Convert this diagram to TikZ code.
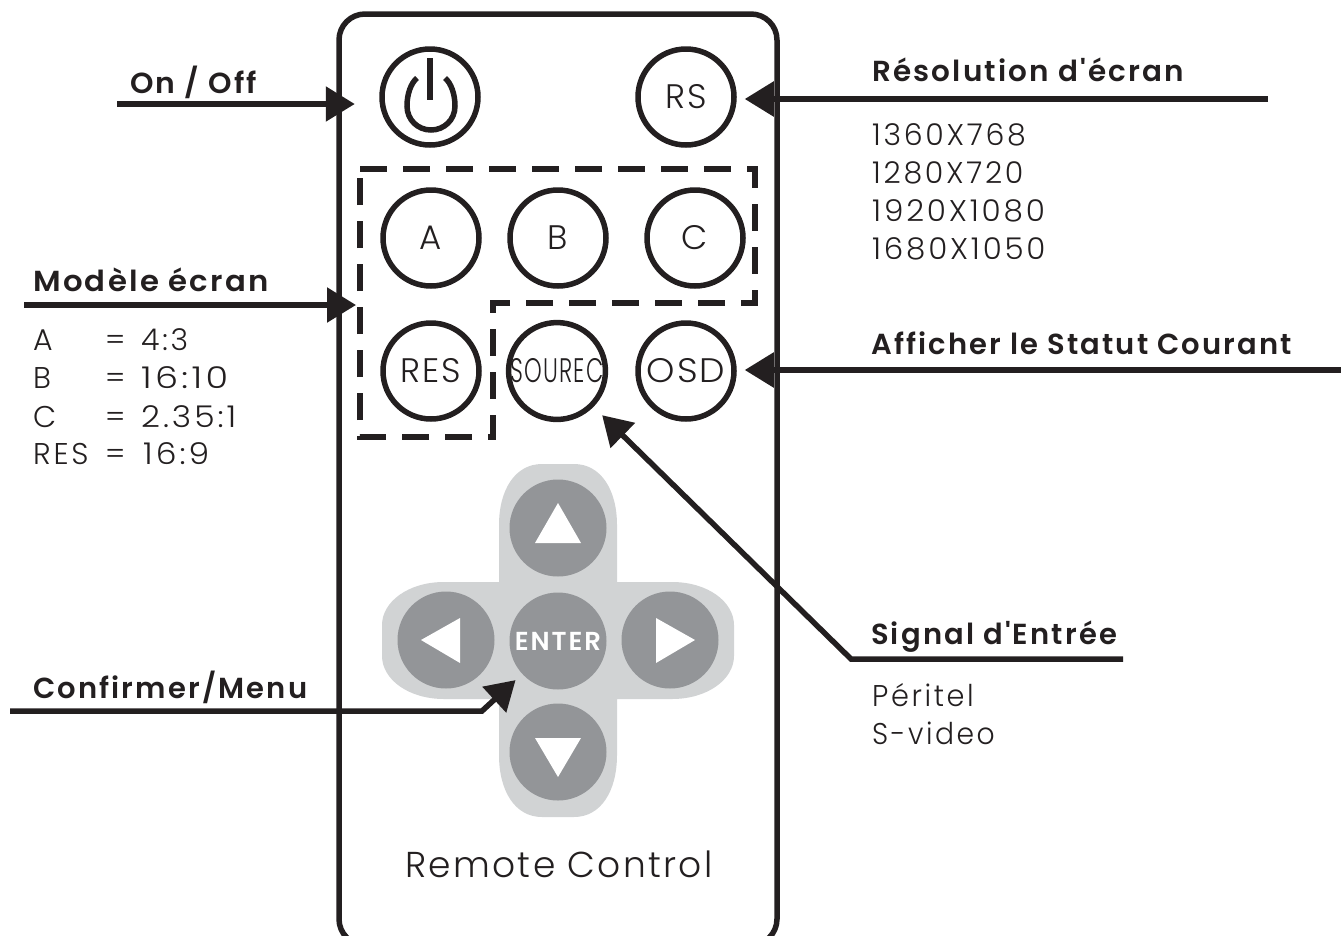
\documentclass[tikz,border=0pt]{standalone}
\usepackage{fontspec}
\usepackage{graphicx}
\usetikzlibrary{arrows.meta}
\setmainfont{Poppins}
\newfontfamily\lightf[LetterSpace=9]{Poppins Light}
\newfontfamily\keyf[LetterSpace=6]{Poppins Light}
\newfontfamily\titlef[LetterSpace=6.5]{Poppins Light}
\newfontfamily\boldf[LetterSpace=7.4]{Poppins SemiBold}
\newcommand{\widen}[2]{\scalebox{#1}[1]{#2}}
\definecolor{ink}{HTML}{231F20}
\definecolor{padlight}{HTML}{D1D3D4}
\definecolor{padgrey}{HTML}{939598}
\tikzset{
  body/.style={draw=ink,line width=5.5pt,rounded corners=26pt},
  key/.style={circle,draw=ink,line width=5.5pt,minimum size=96pt,inner sep=0pt,text=ink,font=\keyf\fontsize{34}{34}\selectfont},
  padkey/.style={circle,fill=padgrey,minimum size=97pt,inner sep=0pt},
  padtri/.style={fill=white},
  dashbox/.style={draw=ink,line width=6pt,dash pattern=on 27pt off 16pt},
  conn/.style={draw=ink,line width=5.5pt,-{Triangle[length=29pt,width=34pt]}},
  heading/.style={anchor=base west,inner sep=0pt,text=ink,font=\boldf\fontsize{29}{29}\selectfont},
  body text/.style={anchor=base west,inner sep=0pt,text=ink,font=\lightf\fontsize{30}{30}\selectfont},
}
\begin{document}
\begin{tikzpicture}[x=1pt,y=-1pt]
\useasboundingbox (0,0) rectangle (1341,935);
\begin{scope}
\clip (0,0) rectangle (1341,935);
\draw[body] (339,14) -- (777,14) -- (777,945) -- (339,945) -- cycle;
\end{scope}
% d-pad
\fill[padlight] (499,582) -- (499,525) .. controls (499,490) and (515,464) .. (542,464) -- (574,464)
  .. controls (601,464) and (617,490) .. (617,525) -- (617,582) -- (672,582)
  .. controls (708,582) and (734,602) .. (734,625) -- (734,656)
  .. controls (734,679) and (708,699) .. (672,699) -- (617,699) -- (617,755)
  .. controls (617,791) and (601,817) .. (574,817) -- (542,817)
  .. controls (515,817) and (499,791) .. (499,755) -- (499,699) -- (444,699)
  .. controls (408,699) and (382,679) .. (382,656) -- (382,625)
  .. controls (382,602) and (408,582) .. (444,582) -- cycle;
\node[padkey] (up) at (558,528) {};
\node[padkey] (down) at (558,752) {};
\node[padkey] (left) at (446,640) {};
\node[padkey] (right) at (670,640) {};
\node[padkey,text=white,font=\boldf\fontsize{26}{26}\selectfont] (enter) at (558,641) {ENTER};
\fill[padtri] (558,503) -- (581,543) -- (535,543) -- cycle;
\fill[padtri] (558,777) -- (581,738) -- (535,738) -- cycle;
\fill[padtri] (421,640) -- (460,618) -- (460,663) -- cycle;
\fill[padtri] (695,640) -- (656,618) -- (656,663) -- cycle;
% keys
\node[key] (power) at (430,97) {};
\draw[draw=ink,line width=5.5pt] (445,78) .. controls (451,83) and (455,94) .. (455,106) .. controls (455,120) and (444,130) .. (431,130) .. controls (418,130) and (407,120) .. (407,106) .. controls (407,94) and (411,83) .. (417,78);
\draw[draw=ink,line width=6pt] (430,58) -- (430,100);
\node[key] (rs) at (686,97) {RS};
\node[key] (a) at (431,238) {A};
\node[key] (b) at (558,238) {B};
\node[key] (c) at (695,238) {C};
\node[key] (res) at (431,371) {RES};
\node[key] (source) at (557,371) {\scalebox{0.66}[1]{SOUREC}};
\node[key] (osd) at (686,371) {\scalebox{1.06}[1]{OSD}};
% dashed outline
\draw[dashbox] (360,169) -- (755,169) -- (755,303) -- (493,303) -- (493,437) -- (360,437) -- cycle;
% connectors
\coordinate (onS) at (117,104);
\coordinate (rsS) at (1268,99);
\coordinate (modS) at (24,305);
\coordinate (modT) at (356,305);
\coordinate (osdS) at (1341,370);
\coordinate (srcS) at (1123,659);
\coordinate (srcE) at (851,659);
\coordinate (cfS) at (10,711);
\coordinate (cfE) at (482,711);
\draw[conn,shorten >=24.5pt] (onS) -- (onS -| power.west);
\draw[conn,shorten >=8pt] (rsS) -- (rsS -| rs.east);
\draw[conn] (modS) -- (modT);
\draw[conn,shorten >=8pt] (osdS) -- (osdS -| osd.east);
\draw[conn,shorten >=12pt] (srcS) -- (srcE) -- (source);
\draw[conn,shorten >=9pt] (cfS) -- (cfE) -- (enter);
% labels
\node[heading] (tOn) at (130,93) {\widen{1.03}{On / Off}};
\node[heading] (tRes) at (872,81) {\widen{1.015}{Résolution d'écran}};
\node[body text] (r1) at (872,145) {1360X768};
\node[body text] (r2) at (872,183) {1280X720};
\node[body text] (r3) at (872,221) {\widen{1.036}{1920X1080}};
\node[body text] (r4) at (872,259) {\widen{1.03}{1680X1050}};
\node[heading] (tMod) at (33,291) {\widen{1.06}{Modèle écran}};
\node[body text] (m1) at (33,350) {\makebox[72pt][l]{A}\makebox[36pt][l]{=}4:3};
\node[body text] (m2) at (33,388) {\makebox[72pt][l]{B}\makebox[36pt][l]{=}\widen{1.22}{16:10}};
\node[body text] (m3) at (33,427) {\makebox[72pt][l]{C}\makebox[36pt][l]{=}\widen{1.1}{2.35:1}};
\node[body text] (m4) at (33,464) {\makebox[72pt][l]{RES}\makebox[38pt][l]{=}\widen{1.1}{16:9}};
\node[heading] (tAff) at (871,354) {Afficher le Statut Courant};
\node[heading] (tSig) at (871,644) {Signal d'Entrée};
\node[body text] (s1) at (872,706) {\widen{0.96}{Péritel}};
\node[body text] (s2) at (872,744) {\widen{0.94}{S-video}};
\node[heading] (tCf) at (33,698) {Confirmer/Menu};
\node[anchor=base west,inner sep=0pt,text=ink,font=\titlef\fontsize{36}{36}\selectfont] (rc) at (405,877) {Remote Control};
\end{tikzpicture}
\end{document}
